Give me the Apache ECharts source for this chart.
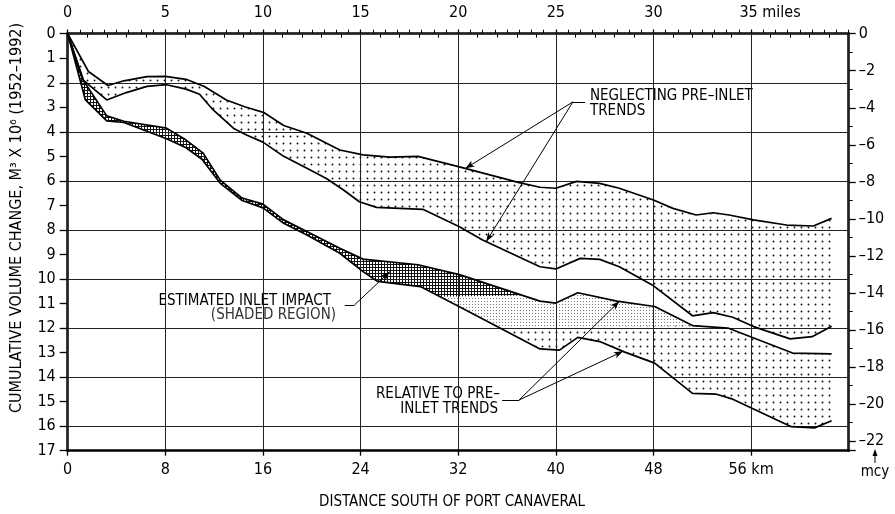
<!DOCTYPE html>
<html>
<head>
<meta charset="utf-8">
<script src="https://cdn.jsdelivr.net/npm/echarts@6/dist/echarts.min.js"></script>
<style>html,body{margin:0;padding:0;background:#fff}#c{width:895px;height:514px}</style>
</head>
<body>
<div id="c"></div>
<script>
// ---- data (km, million m^3) ----
const neglectUpper = [[0,0],[1.7,1.54],[3.3,2.11],[4.6,1.92],[6.5,1.75],[8.0,1.74],[9.7,1.86],[11.2,2.15],[13.0,2.7],[14.5,2.98],[16.1,3.22],[17.7,3.74],[19.6,4.06],[22.3,4.74],[24.2,4.94],[26.4,5.03],[28.7,5.0],[32.1,5.43],[37.0,6.07],[38.7,6.26],[40.0,6.30],[41.7,6.02],[43.6,6.10],[45.2,6.30],[48.0,6.78],[49.6,7.12],[51.5,7.39],[52.9,7.30],[54.2,7.39],[56.2,7.59],[58.9,7.80],[61.1,7.84],[62.6,7.53]];
const neglectLower = [[0,0],[1.3,1.9],[3.2,2.7],[4.8,2.4],[6.5,2.15],[8.1,2.08],[9.7,2.26],[10.8,2.47],[11.9,3.1],[13.6,3.86],[14.7,4.14],[16.0,4.42],[17.7,5.0],[19.6,5.49],[21.2,5.9],[22.6,6.37],[23.9,6.85],[25.3,7.08],[29.1,7.16],[32.1,7.87],[34.0,8.41],[38.7,9.5],[40.0,9.59],[42.0,9.16],[43.6,9.2],[45.2,9.5],[47.9,10.24],[51.2,11.5],[52.9,11.37],[54.5,11.56],[56.2,11.94],[59.2,12.44],[61.0,12.35],[62.6,11.93]];
const relativeUpper = [[0,0],[1.2,1.85],[3.2,3.35],[4.6,3.57],[8.1,3.85],[9.6,4.3],[11.1,4.87],[12.5,5.97],[14.3,6.7],[16.0,6.95],[17.7,7.59],[19.6,8.06],[22.3,8.75],[24.2,9.19],[28.7,9.42],[32.1,9.82],[38.7,10.9],[40.0,10.98],[41.8,10.56],[45.0,10.9],[48.1,11.12],[51.2,11.9],[54.1,12.0],[59.4,13.02],[62.6,13.05]];
const relativeLower = [[0,0],[1.45,2.7],[3.2,3.55],[4.6,3.62],[8.1,4.28],[9.7,4.65],[11.0,5.12],[12.5,6.1],[14.3,6.8],[16.0,7.1],[17.7,7.73],[19.6,8.21],[22.3,8.95],[24.2,9.7],[25.4,10.1],[28.9,10.31],[32.1,11.13],[38.7,12.85],[40.3,12.9],[41.8,12.38],[43.6,12.55],[45.6,12.97],[48.1,13.43],[51.2,14.66],[53.1,14.69],[54.5,14.9],[59.3,16.02],[61.2,16.07],[62.6,15.78]];
// edges of the shaded (inlet impact) patterns
const hatchEdge = [[37.3,10.67],[30.5,10.72]];
const fineEdge = [[51.2,11.9],[35.5,12.0],[30.5,10.72]];
// axis ranges / tick labels
const kmMax = 64, milesMax = 40, volMax = 17, mcyMax = 22.52;
const kmUnitLabel = '56 km', mileUnitLabel = '35 miles';
// leader lines of the annotations [from, to, arrow]
const leaders = [
  [[42.4,2.78],[41.4,2.78],false],
  [[41.4,2.78],[32.6,5.49],true],
  [[41.4,2.78],[34.3,8.47],true],
  [[22.7,11.06],[23.5,11.06],false],
  [[23.5,11.06],[26.4,9.70],true],
  [[35.6,14.93],[37.0,14.93],false],
  [[37.0,14.93],[45.2,10.91],true],
  [[37.0,14.93],[45.5,12.95],true]
];

const FONT = '"Liberation Sans Narrow","DejaVu Sans Condensed","Roboto Condensed","Liberation Sans",sans-serif';

function makePattern(w, h, draw) {
  const c = document.createElement('canvas');
  c.width = w; c.height = h;
  draw(c.getContext('2d'));
  return {image: c, repeat: 'repeat'};
}
const coarseDots = makePattern(7, 7, ctx => { ctx.fillStyle = '#111'; ctx.beginPath(); ctx.arc(3.5, 3.5, 0.95, 0, Math.PI * 2); ctx.fill(); });
const fineDots = makePattern(3, 3, ctx => { ctx.fillStyle = '#fff'; ctx.fillRect(0,0,3,3); ctx.fillStyle = '#777'; ctx.fillRect(1,1,1,1); });
const hatch = makePattern(3, 3, ctx => { ctx.fillStyle = '#fff'; ctx.fillRect(0,0,3,3); ctx.fillStyle = '#111'; ctx.fillRect(0,0,3,1); ctx.fillRect(0,0,1,3); });

function band(name, poly, fill) {
  return {
    type: 'custom', name, coordinateSystem: 'cartesian2d', xAxisIndex: 0, yAxisIndex: 0,
    silent: true, z: 1, data: [[0, 0]],
    renderItem: (params, api) => ({
      type: 'polygon',
      shape: {points: poly.map(p => api.coord(p))},
      style: {fill: fill, stroke: null}
    })
  };
}
const rev = a => a.slice().reverse();
const upperPoly = neglectUpper.concat(rev(neglectLower));
const lowerPoly = relativeUpper.concat(rev(relativeLower));
const finePoly = relativeUpper.filter(p => p[0] > fineEdge[2][0] && p[0] <= fineEdge[0][0]).concat(fineEdge);
const hatchPoly = relativeUpper.filter(p => p[0] < hatchEdge[0][0])
  .concat(hatchEdge)
  .concat(rev(relativeLower.filter(p => p[0] < hatchEdge[1][0])));

function curve(name, data, extra) {
  return Object.assign({
    type: 'line', name, data, xAxisIndex: 0, yAxisIndex: 0, symbol: 'none', showSymbol: false,
    silent: true, z: 4, lineStyle: {color: '#000', width: 1.7}
  }, extra || {});
}

const frameLine = {show: true, onZero: false, lineStyle: {color: '#000', width: 2.5}};
const labelBase = {color: '#000', fontSize: 16, fontFamily: FONT};

const chart = echarts.init(document.getElementById('c'), null, {renderer: 'canvas'});
chart.setOption({
  animation: false,
  backgroundColor: '#fff',
  grid: {left: 67.7, right: 46.3, top: 33.7, bottom: 63.3, containLabel: false},
  xAxis: [
    {type: 'value', position: 'bottom', min: 0, max: kmMax, interval: 8, z: 3,
     axisLine: frameLine, axisTick: {show: true, length: 5, lineStyle: {color: '#000', width: 1.3}},
     axisLabel: Object.assign({}, labelBase, {margin: 11, showMaxLabel: false,
       formatter: v => v === 56 ? kmUnitLabel : (v === kmMax ? '' : String(v))}),
     splitLine: {show: true, lineStyle: {color: '#222', width: 1}}},
    {type: 'value', position: 'bottom', min: 0, max: kmMax, interval: 1,
     axisLine: {show: false}, axisTick: {show: true, inside: true, length: 4, lineStyle: {color: '#000', width: 1}},
     axisLabel: {show: false}, splitLine: {show: false}},
    {type: 'value', position: 'top', min: 0, max: milesMax, interval: 5,
     axisLine: frameLine, axisTick: {show: true, length: 4, lineStyle: {color: '#000', width: 1.3}},
     axisLabel: Object.assign({}, labelBase, {margin: 13, showMaxLabel: false,
       formatter: v => v === 35 ? '{p| }' + mileUnitLabel : (v === milesMax ? '' : String(v)),
       rich: {p: {width: 38}}}),
     splitLine: {show: false}},
    {type: 'value', position: 'top', min: 0, max: milesMax, interval: 1,
     axisLine: {show: false}, axisTick: {show: true, inside: true, length: 4, lineStyle: {color: '#000', width: 1}},
     axisLabel: {show: false}, splitLine: {show: false}}
  ],
  yAxis: [
    {type: 'value', position: 'left', min: 0, max: volMax, interval: 1, inverse: true,
     axisLine: frameLine, axisTick: {show: true, length: 8, lineStyle: {color: '#000', width: 1.3}},
     axisLabel: Object.assign({}, labelBase, {margin: 12}), splitLine: {show: false}},
    {type: 'value', position: 'left', min: 0, max: volMax, interval: 2, inverse: true, z: 3,
     axisLine: {show: false}, axisTick: {show: false}, axisLabel: {show: false},
     splitLine: {show: true, lineStyle: {color: '#222', width: 1}}},
    {type: 'value', position: 'right', min: 0, max: mcyMax, interval: 2, inverse: true,
     axisLine: frameLine, axisTick: {show: true, length: 7, lineStyle: {color: '#000', width: 1.3}},
     minorTick: {show: true, splitNumber: 2, length: 4, lineStyle: {color: '#000', width: 1}},
     axisLabel: Object.assign({}, labelBase, {margin: 10, showMaxLabel: false,
       formatter: v => v === 0 ? '0' : '\u2013' + v}),
     splitLine: {show: false}}
  ],
  series: [
    band('neglect band', upperPoly, coarseDots),
    band('relative band', lowerPoly, coarseDots),
    band('impact fine', finePoly, fineDots),
    band('impact hatch', hatchPoly, hatch),
    curve('Neglecting pre-inlet trends (upper)', neglectUpper, {
      markLine: {
        silent: true, animation: false, symbolSize: [5, 9],
        label: {show: false}, lineStyle: {color: '#000', width: 1, type: 'solid'},
        emphasis: {disabled: true},
        data: leaders.map(l => [{coord: l[0], symbol: 'none'}, {coord: l[1], symbol: l[2] ? 'arrow' : 'none'}])
      }
    }),
    curve('Neglecting pre-inlet trends (lower)', neglectLower),
    curve('Relative to pre-inlet trends (upper)', relativeUpper),
    curve('Relative to pre-inlet trends (lower)', relativeLower)
  ],
  graphic: [
    {type: 'text', x: 590, y: 96, silent: true, style: {text: 'NEGLECTING PRE\u2013INLET', font: '15px ' + FONT, fill: '#000', textAlign: 'left', align: 'left', textVerticalAlign: 'middle', verticalAlign: 'middle'}},
    {type: 'text', x: 590, y: 111, silent: true, style: {text: 'TRENDS', font: '15px ' + FONT, fill: '#000', textAlign: 'left', align: 'left', textVerticalAlign: 'middle', verticalAlign: 'middle'}},
    {type: 'text', x: 331, y: 301, silent: true, style: {text: 'ESTIMATED INLET IMPACT', font: '15px ' + FONT, fill: '#000', textAlign: 'right', align: 'right', textVerticalAlign: 'middle', verticalAlign: 'middle'}},
    {type: 'text', x: 336, y: 315, silent: true, style: {text: '(SHADED REGION)', font: '15px ' + FONT, fill: '#333', textAlign: 'right', align: 'right', textVerticalAlign: 'middle', verticalAlign: 'middle'}},
    {type: 'text', x: 500, y: 394, silent: true, style: {text: 'RELATIVE TO PRE\u2013', font: '15px ' + FONT, fill: '#000', textAlign: 'right', align: 'right', textVerticalAlign: 'middle', verticalAlign: 'middle'}},
    {type: 'text', x: 498, y: 409, silent: true, style: {text: 'INLET TRENDS', font: '15px ' + FONT, fill: '#000', textAlign: 'right', align: 'right', textVerticalAlign: 'middle', verticalAlign: 'middle'}},
    {type: 'text', x: 452, y: 502, silent: true, style: {text: 'DISTANCE SOUTH OF PORT CANAVERAL', font: '15px ' + FONT, fill: '#000', textAlign: 'center', align: 'center', textVerticalAlign: 'middle', verticalAlign: 'middle'}},
    {type: 'text', x: 17, y: 218, rotation: Math.PI / 2, silent: true, style: {text: 'CUMULATIVE VOLUME CHANGE, M\u00B3 X 10\u2076 (1952\u20131992)', font: '16px ' + FONT, fill: '#000', textAlign: 'center', align: 'center', textVerticalAlign: 'middle', verticalAlign: 'middle'}},
    {type: 'text', x: 875, y: 472, silent: true, style: {text: 'mcy', font: '15px ' + FONT, fill: '#000', textAlign: 'center', align: 'center', textVerticalAlign: 'middle', verticalAlign: 'middle'}},
    {type: 'line', silent: true, shape: {x1: 875, y1: 463, x2: 875, y2: 451}, style: {stroke: '#000', lineWidth: 1}},
    {type: 'polygon', silent: true, shape: {points: [[872.5, 456], [877.5, 456], [875, 449]]}, style: {fill: '#000'}}
  ]
});
</script>
</body>
</html>
